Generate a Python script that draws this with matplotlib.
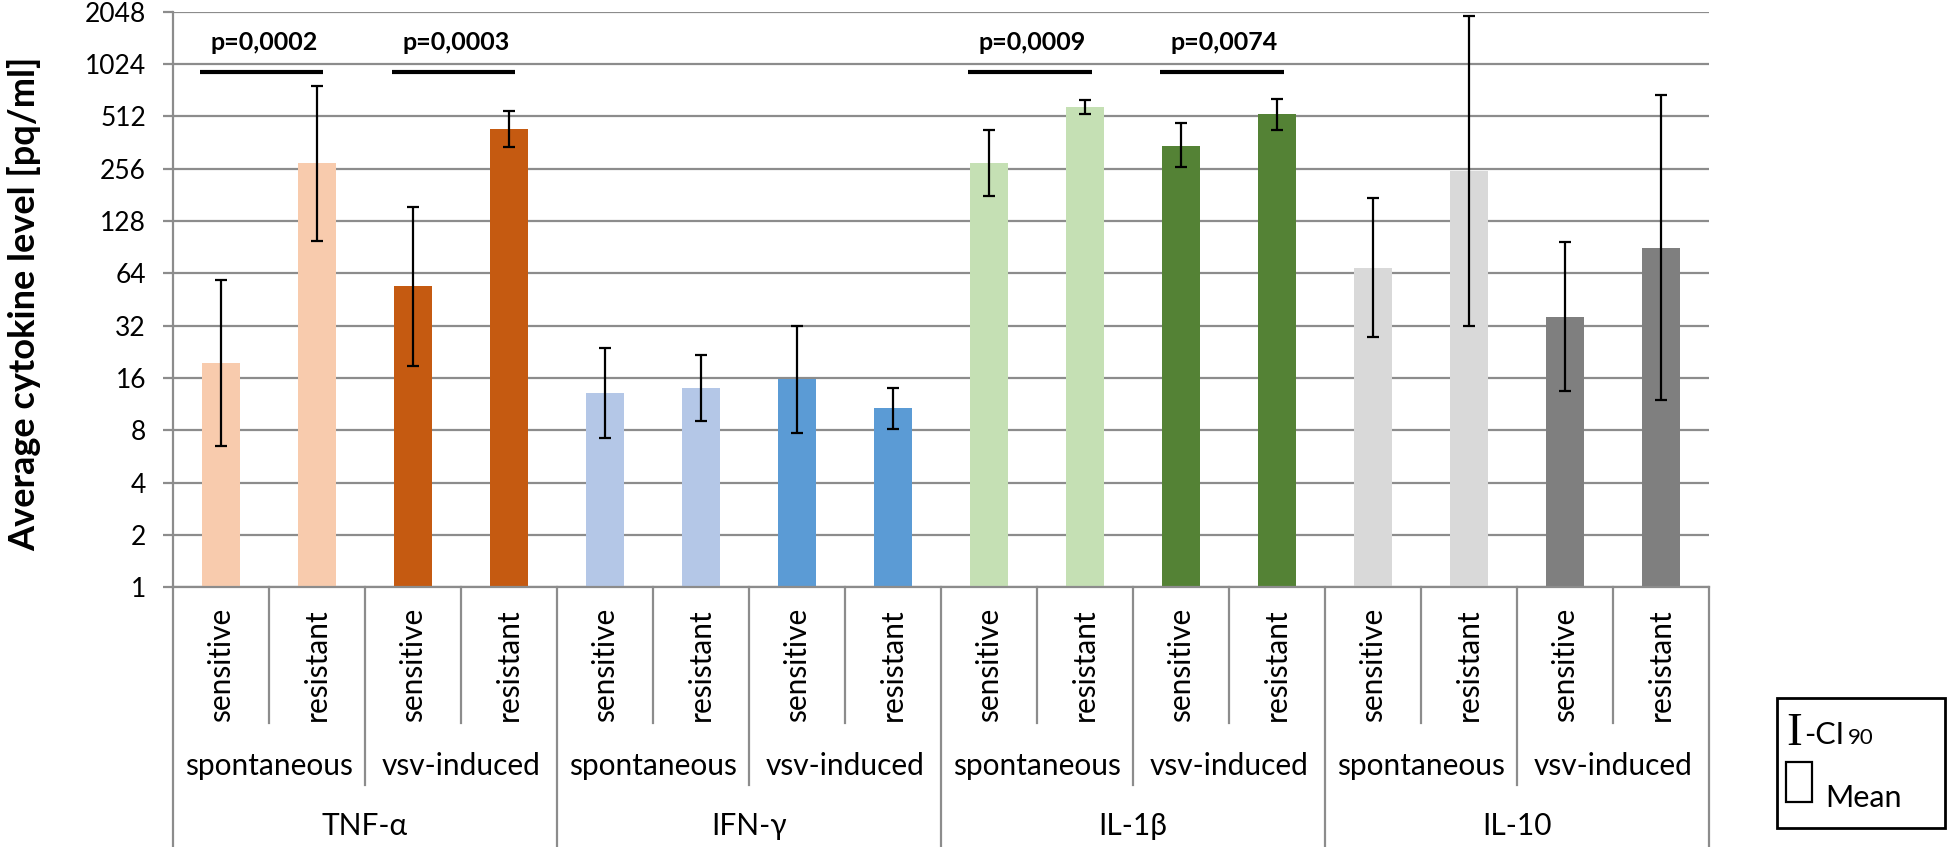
import numpy as np
import matplotlib.pyplot as plt
from matplotlib.patches import Rectangle
from matplotlib.transforms import blended_transform_factory

plt.rcParams['font.family'] = ['Lato', 'DejaVu Sans']

# data (pg/ml, log2 axis)
cytokines = ['TNF-α', 'IFN-γ', 'IL-1β', 'IL-10']
stimuli = ['spontaneous', 'vsv-induced']
groups = ['sensitive', 'resistant']

means = [19.5, 276, 54, 433,
         13.2, 14.1, 15.7, 10.7,
         275, 579, 347, 526,
         69, 247, 36, 90]
ci_low = [6.5, 98, 18.8, 342,
          7.2, 9.0, 7.7, 8.1,
          178, 526, 261, 425,
          27.5, 32, 13.4, 11.9]
ci_high = [58.6, 768, 154, 547,
           23.9, 21.8, 32, 14.1,
           427, 638, 467, 644,
           174, 1926, 96.5, 682]
bar_colors = ['#F8CBAD', '#F8CBAD', '#C55A11', '#C55A11',
              '#B4C7E7', '#B4C7E7', '#5B9BD5', '#5B9BD5',
              '#C5E0B4', '#C5E0B4', '#548235', '#548235',
              '#D9D9D9', '#D9D9D9', '#7F7F7F', '#7F7F7F']
p_first = [0, 2, 8, 10]
p_values = ['p=0,0002', 'p=0,0003', 'p=0,0009', 'p=0,0074']
yticks = [1, 2, 4, 8, 16, 32, 64, 128, 256, 512, 1024, 2048]

W, H = 1947, 847
grid_c = '#8c8c8c'


def fx(x):
    return x / W


def fy(y):
    return 1 - y / H


fig = plt.figure(figsize=(W / 100, H / 100), dpi=100)
ax = fig.add_axes([fx(172.7), fy(587.3), (1709 - 172.7) / W, (587.3 - 11.7) / H])

x = np.arange(len(means))
m = np.array(means)
lo = np.array(ci_low)
hi = np.array(ci_high)

ax.bar(x, m, width=0.4, color=bar_colors, zorder=2)
ax.errorbar(x, m, yerr=[m - lo, hi - m], fmt='none', ecolor='black',
            elinewidth=1.6, capsize=4.3, capthick=1.6, zorder=3)

ax.set_yscale('log', base=2)
ax.set_ylim(1, 2048)
ax.set_xlim(-0.5, len(means) - 0.5)
ax.set_yticks(yticks)
ax.set_yticklabels([str(t) for t in yticks])
ax.yaxis.set_minor_locator(plt.NullLocator())
ax.set_xticks([])
ax.yaxis.grid(True, color=grid_c, lw=1.6)
ax.set_axisbelow(True)
for s in ['top', 'right']:
    ax.spines[s].set_visible(False)
for s in ['left', 'bottom']:
    ax.spines[s].set_color(grid_c)
    ax.spines[s].set_linewidth(1.6)
ax.tick_params(axis='y', length=7.2, width=1.6, color=grid_c, pad=12, labelsize=19)

# significance bars
xa = ax.get_xaxis_transform()
for i, p in zip(p_first, p_values):
    ax.plot([i - 0.22, i + 1.07], [0.895, 0.895], transform=xa, color='black',
            lw=3, clip_on=False, solid_capstyle='butt')
    ax.text(i + 0.45, 0.934, p, transform=xa, ha='center', va='baseline',
            fontsize=18, fontweight='bold')

# multi-level category axis
tr = blended_transform_factory(ax.transData, fig.transFigure)
n = len(means)
for k in range(n + 1):
    b = k - 0.5
    if k % 4 == 0:
        y_end = 847
    elif k % 2 == 0:
        y_end = 785
    else:
        y_end = 723.3
    ax.plot([b, b], [fy(587.3), fy(y_end)], transform=tr, color=grid_c,
            lw=1.6, clip_on=False)

for i in range(n):
    ax.text(i, fy(665), groups[i % 2], transform=tr, rotation=90,
            ha='center', va='center', fontsize=21.5)
for j in range(n // 2):
    ax.text(2 * j + 0.5, fy(766), stimuli[j % 2], transform=tr,
            ha='center', va='center', fontsize=21.5)
for j, c in enumerate(cytokines):
    ax.text(4 * j + 1.5, fy(826), c, transform=tr,
            ha='center', va='center', fontsize=21.5)

fig.text(fx(24), fy(304), 'Average cytokine level [pq/ml]', rotation=90,
         ha='center', va='center', fontsize=26, fontweight='bold')

# legend box
fig.patches.append(Rectangle((fx(1777), fy(828)), (1945 - 1777) / W, (828 - 698) / H,
                             transform=fig.transFigure, fill=False, ec='black', lw=2))
fig.text(fx(1786), fy(745), 'I', family='Liberation Serif', fontsize=34,
         ha='left', va='baseline')
fig.text(fx(1804), fy(744.3), '-CI', fontsize=22, ha='left', va='baseline')
fig.text(fx(1848), fy(744.3), '90', fontsize=16, ha='left', va='baseline')
fig.patches.append(Rectangle((fx(1785.7), fy(801.7)), 26 / W, 40 / H,
                             transform=fig.transFigure, fill=False, ec='black', lw=1.6))
fig.text(fx(1825), fy(806.7), 'Mean', fontsize=22, ha='left', va='baseline')

fig.savefig('out.png', dpi=100)
